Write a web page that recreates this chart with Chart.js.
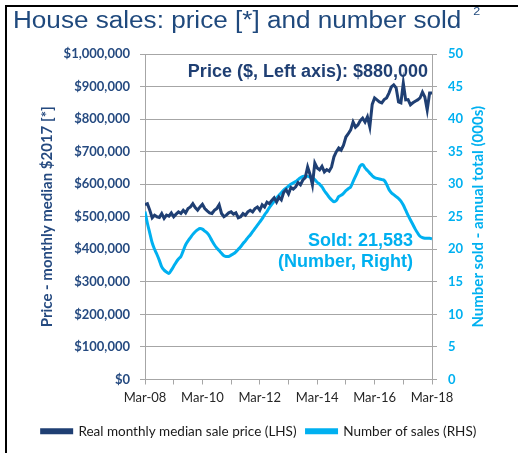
<!DOCTYPE html>
<html>
<head>
<meta charset="utf-8">
<script src="https://cdn.jsdelivr.net/npm/chart.js@4.4.0/dist/chart.umd.min.js"></script>
<style>
  html, body { margin: 0; padding: 0; background: #fff; }
  #wrap { position: relative; width: 518px; height: 453px; overflow: hidden; }
  #frameTop { position: absolute; left: 5px; top: 5px; width: 513px; height: 2px; background: #000; }
  #frameLeft { position: absolute; left: 5px; top: 5px; width: 2px; height: 448px; background: #000; }
  #title { position: absolute; left: 13px; top: 7px; font: 23px 'Liberation Sans', Arial, sans-serif; color: #1F497D;
           white-space: nowrap; transform: scaleX(1.135); transform-origin: left top; }
  #title sup { font-size: 11px; position: relative; top: -4px; margin-left: 4px; }
  canvas { position: absolute; left: 0; top: 0; }
</style>
</head>
<body>
<div id="wrap">
  <canvas id="chart" width="518" height="453"></canvas>
  <div id="frameTop"></div>
  <div id="frameLeft"></div>
  <div id="title">House sales: price [*] and number sold <sup>2</sup></div>
</div>
<script>
// monthly, Mar-08 .. Mar-18 (index 0..120)
const xTickLabels = ['Mar-08', 'Mar-10', 'Mar-12', 'Mar-14', 'Mar-16', 'Mar-18'];

// real monthly median sale price, $2017 (thousands)
const priceK = [
  537, 540, 520, 497, 505, 500, 498, 510, 495, 505, 502, 512,
  500, 508, 515, 510, 520, 512, 525, 530, 540, 528, 520, 530,
  538, 525, 518, 512, 510, 520, 525, 537, 510, 500, 505, 512,
  515, 508, 512, 497, 500, 510, 505, 515, 520, 515, 525, 530,
  520, 537, 530, 545, 540, 550, 558, 545, 560, 552, 575, 583,
  570, 590, 585, 592, 605, 598, 613, 620, 653, 630, 598, 665,
  650, 644, 655, 638, 645, 640, 653, 684, 700, 711, 705, 720,
  745, 755, 767, 791, 775, 782, 795, 803, 791, 807, 776, 845,
  865, 859, 853, 850, 860, 865, 880, 899, 905, 896, 853, 850,
  911, 859, 860, 844, 850, 855, 859, 865, 883, 868, 828, 880,
  880
];

// number of sales, annual total (000s)
const sold = [
  25.8, 24.0, 22.5, 21.0, 20.0, 19.2, 18.3, 17.3, 16.8, 16.5, 16.3, 16.8,
  17.4, 18.0, 18.5, 18.9, 19.8, 20.7, 21.3, 21.8, 22.3, 22.7, 23.0, 23.2,
  23.1, 22.8, 22.5, 22.0, 21.3, 20.7, 20.2, 19.8, 19.4, 19.0, 18.9, 18.9,
  19.1, 19.3, 19.6, 20.0, 20.4, 20.9, 21.3, 21.8, 22.2, 22.7, 23.2, 23.7,
  24.2, 24.7, 25.3, 25.8, 26.4, 26.9, 27.4, 27.9, 28.3, 28.7, 29.1, 29.4,
  29.7, 30.0, 30.2, 30.4, 30.7, 31.0, 31.2, 31.2, 31.2, 31.1, 31.0, 30.7,
  30.3, 30.0, 29.6, 29.0, 28.5, 28.0, 27.6, 27.3, 27.5, 28.1, 28.3, 28.6,
  29.0, 29.3, 29.6, 30.4, 31.2, 32.0, 32.8, 33.0, 32.5, 32.1, 31.7, 31.3,
  31.0, 30.9, 30.8, 30.7, 30.6, 30.0, 29.2, 28.7, 28.4, 28.1, 27.8, 27.4,
  26.8, 26.0, 25.2, 24.5, 23.8, 23.1, 22.5, 22.0, 21.8, 21.7, 21.7, 21.7,
  21.6
];

const navy = '#1F3F73';
const blue = '#00B0F0';
const axisNavy = '#254A80';
const grid = '#A6A6A6';

const pricePts = priceK.map((v, i) => ({ x: i, y: v * 1000 }));
const soldPts = sold.map((v, i) => ({ x: i, y: v }));

// text notes on the plot + right axis title (reads bottom to top)
const notes = {
  id: 'notes',
  afterDatasetsDraw(chart) {
    const ctx = chart.ctx, a = chart.chartArea;
    ctx.save();
    ctx.font = 'bold 18px "Liberation Sans", Arial, sans-serif';
    ctx.textAlign = 'right';
    ctx.textBaseline = 'middle';
    ctx.fillStyle = navy;
    ctx.fillText('Price ($, Left axis): $880,000', a.right - 4, a.top + 18);
    ctx.fillStyle = blue;
    ctx.fillText('Sold: 21,583', a.right - 19, 241);
    ctx.fillText('(Number, Right)', a.right - 19, 262);

    ctx.translate(a.right + 46, (a.top + a.bottom) / 2);
    ctx.rotate(-Math.PI / 2);
    ctx.textAlign = 'center';
    ctx.font = 'bold 15px Lato';
    ctx.fillText('Number sold - annual total (000s)', 0, 0);
    ctx.restore();
  }
};

new Chart(document.getElementById('chart'), {
  type: 'line',
  data: {
    datasets: [{
      label: 'Real monthly median sale price (LHS)',
      data: pricePts,
      yAxisID: 'y',
      borderColor: navy,
      backgroundColor: navy,
      borderWidth: 3,
      pointRadius: 0,
      tension: 0
    }, {
      label: 'Number of sales (RHS)',
      data: soldPts,
      yAxisID: 'y1',
      borderColor: blue,
      backgroundColor: blue,
      borderWidth: 3,
      pointRadius: 0,
      tension: 0.4
    }]
  },
  options: {
    responsive: false,
    animation: false,
    layout: { padding: { top: 54, left: 0, right: 0, bottom: 5 } },
    plugins: {
      legend: {
        position: 'bottom',
        labels: {
          boxWidth: 30,
          boxHeight: 3,
          padding: 10,
          color: '#1a1a1a',
          font: { family: 'Lato', size: 13.5 }
        }
      },
      tooltip: { enabled: false }
    },
    scales: {
      x: {
        type: 'linear',
        min: 0,
        max: 120,
        afterFit: s => { s.height = 35; },
        border: { color: grid, width: 1 },
        grid: { drawOnChartArea: false, color: grid, tickLength: 5 },
        ticks: {
          stepSize: 12,
          padding: 6,
          maxRotation: 0,
          autoSkip: false,
          color: '#262626',
          font: { family: 'Lato', size: 13 },
          callback: v => (v % 24 === 0 ? xTickLabels[v / 24] : '')
        }
      },
      y: {
        position: 'left',
        min: 0,
        max: 1000000,
        afterFit: s => { s.width = 145; },
        border: { color: grid, width: 1 },
        grid: { color: grid, lineWidth: 1, tickLength: 5 },
        ticks: {
          stepSize: 100000,
          padding: 10,
          color: axisNavy,
          font: { family: 'Lato', size: 13, weight: 'bold' },
          callback: v => '$' + v.toLocaleString('en-US')
        },
        title: {
          display: true,
          text: 'Price - monthly median $2017 [*]',
          color: axisNavy,
          font: { family: 'Lato', size: 15, weight: 'bold' },
          padding: { top: 38, bottom: 0 }
        }
      },
      y1: {
        position: 'right',
        min: 0,
        max: 50,
        afterFit: s => { s.width = 86; },
        border: { color: grid, width: 1 },
        grid: { drawOnChartArea: false, color: grid, tickLength: 5 },
        ticks: {
          stepSize: 5,
          padding: 11,
          color: blue,
          font: { family: 'Lato', size: 13, weight: 'bold' }
        }
      }
    }
  },
  plugins: [notes]
});
</script>
</body>
</html>
